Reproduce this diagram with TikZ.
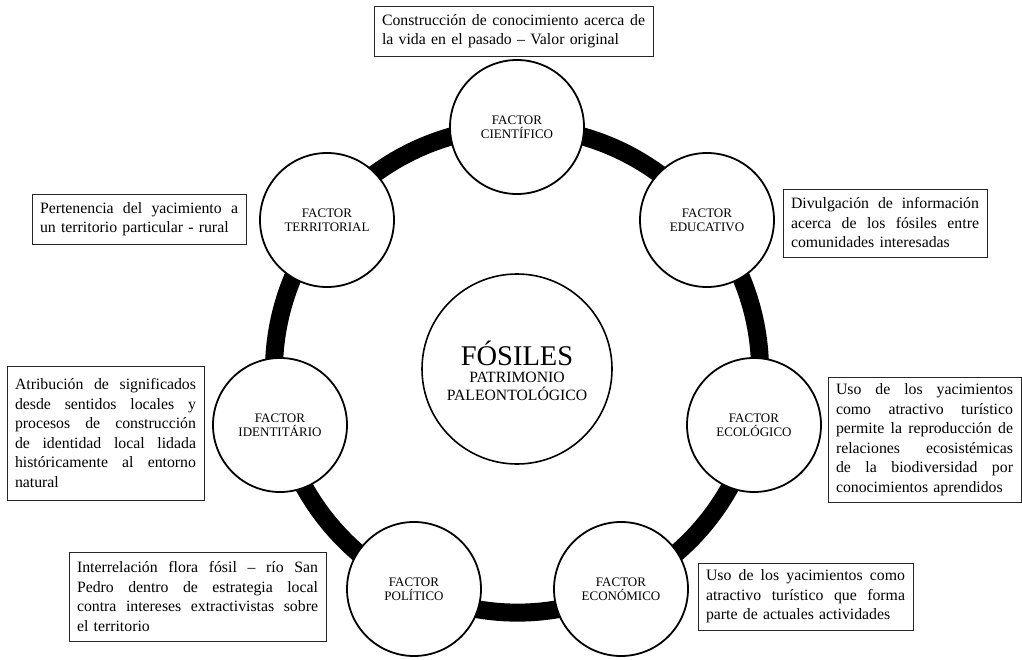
\documentclass[tikz,border=0pt]{standalone}
\usepackage{fontspec}
\setmainfont{Liberation Serif}
\usetikzlibrary{backgrounds}
\newcommand{\JL}[2]{\leavevmode\hbox to #1pt{\spaceskip=\fontdimen2\font plus 1fil\relax #2}}
\begin{document}
\begin{tikzpicture}[x=1pt,y=-1pt,
  factor/.style={circle,draw=black,line width=1.8pt,fill=white,minimum size=134pt,inner sep=0pt,align=center,font=\fontsize{13}{14}\selectfont},
  infobox/.style={draw=black!85,line width=0.9pt,inner xsep=8pt,inner ysep=0pt,align=left,font=\fontsize{15.8}{19.5}\selectfont},
  bandline/.style={line width=18pt,black},
  centertext/.style={anchor=base,inner sep=0pt}]
\useasboundingbox (0,0) rectangle (1022,660);
% factor circles
\node[factor] (cien) at (517,127) {FACTOR\\CIENTÍFICO};
\node[factor] (edu)  at (707,220) {FACTOR\\EDUCATIVO};
\node[factor] (eco)  at (754,425) {FACTOR\\ECOLÓGICO};
\node[factor] (econ) at (621,589) {FACTOR\\ECONÓMICO};
\node[factor] (pol)  at (414,589) {FACTOR\\POLÍTICO};
\node[factor] (ide)  at (280,425) {FACTOR\\IDENTITÁRIO};
\node[factor] (ter)  at (327,220) {FACTOR\\TERRITORIAL};
% central circle
\node[circle,draw=black,line width=1.6pt,minimum size=190pt,inner sep=0pt] (fos) at (517,369) {};
\node[centertext,font=\fontsize{28.5}{30}\selectfont] (fostxt) at (517,365) {FÓSILES};
\node[centertext,font=\fontsize{15.7}{17}\selectfont] (pattxt) at (517,382) {PATRIMONIO};
\node[centertext,font=\fontsize{15.7}{17}\selectfont] (paltxt) at (517,400.5) {PALEONTOLÓGICO};
% ring band
\begin{pgfonlayer}{background}
\draw[bandline] (cien.center) to[bend left=25.7,looseness=0.9] (edu.center);
\draw[bandline] (edu.center) to[bend left=25.7,looseness=0.9] (eco.center);
\draw[bandline] (eco.center) to[bend left=25.7,looseness=0.9] (econ.center);
\draw[bandline] (econ.center) to[bend left=25.7,looseness=0.9] (pol.center);
\draw[bandline] (pol.center) to[bend left=25.7,looseness=0.9] (ide.center);
\draw[bandline] (ide.center) to[bend left=25.7,looseness=0.9] (ter.center);
\draw[bandline] (ter.center) to[bend left=25.7,looseness=0.9] (cien.center);
\end{pgfonlayer}
% text boxes
\node[infobox,text width=263pt,minimum height=50pt] (bcien) at (513.5,31)
  {\JL{263}{Construcción de conocimiento acerca de}\\la vida en el pasado – Valor original};
\node[infobox,text width=198pt,minimum height=50pt] (bter) at (139,219)
  {\JL{198}{Pertenencia del yacimiento a}\\un territorio particular - rural};
\node[infobox,text width=181pt,minimum height=134pt] (bide) at (105.5,433)
  {\JL{181}{Atribución de significados}\\\JL{181}{desde sentidos locales y}\\\JL{181}{procesos de construcción}\\\JL{181}{de identidad local lidada}\\\JL{181}{históricamente al entorno}\\natural};
\node[infobox,text width=188pt,minimum height=68pt] (bedu) at (885,223)
  {\JL{188}{Divulgación de información}\\\JL{188}{acerca de los fósiles entre}\\comunidades interesadas};
\node[infobox,text width=177pt,minimum height=125pt] (beco) at (924.5,439.5)
  {\JL{177}{Uso de los yacimientos}\\\JL{177}{como atractivo turístico}\\\JL{177}{permite la reproducción de}\\\JL{177}{relaciones ecosistémicas}\\\JL{177}{de la biodiversidad por}\\conocimientos aprendidos};
\node[infobox,text width=241pt,minimum height=89pt] (bpol) at (197.5,596.5)
  {\JL{241}{Interrelación flora fósil – río San}\\\JL{241}{Pedro dentro de estrategia local}\\\JL{241}{contra intereses extractivistas sobre}\\el territorio};
\node[infobox,text width=199pt,minimum height=67pt] (becon) at (805.5,596.5)
  {\JL{199}{Uso de los yacimientos como}\\\JL{199}{atractivo turístico que forma}\\parte de actuales actividades};
\end{tikzpicture}
\end{document}
